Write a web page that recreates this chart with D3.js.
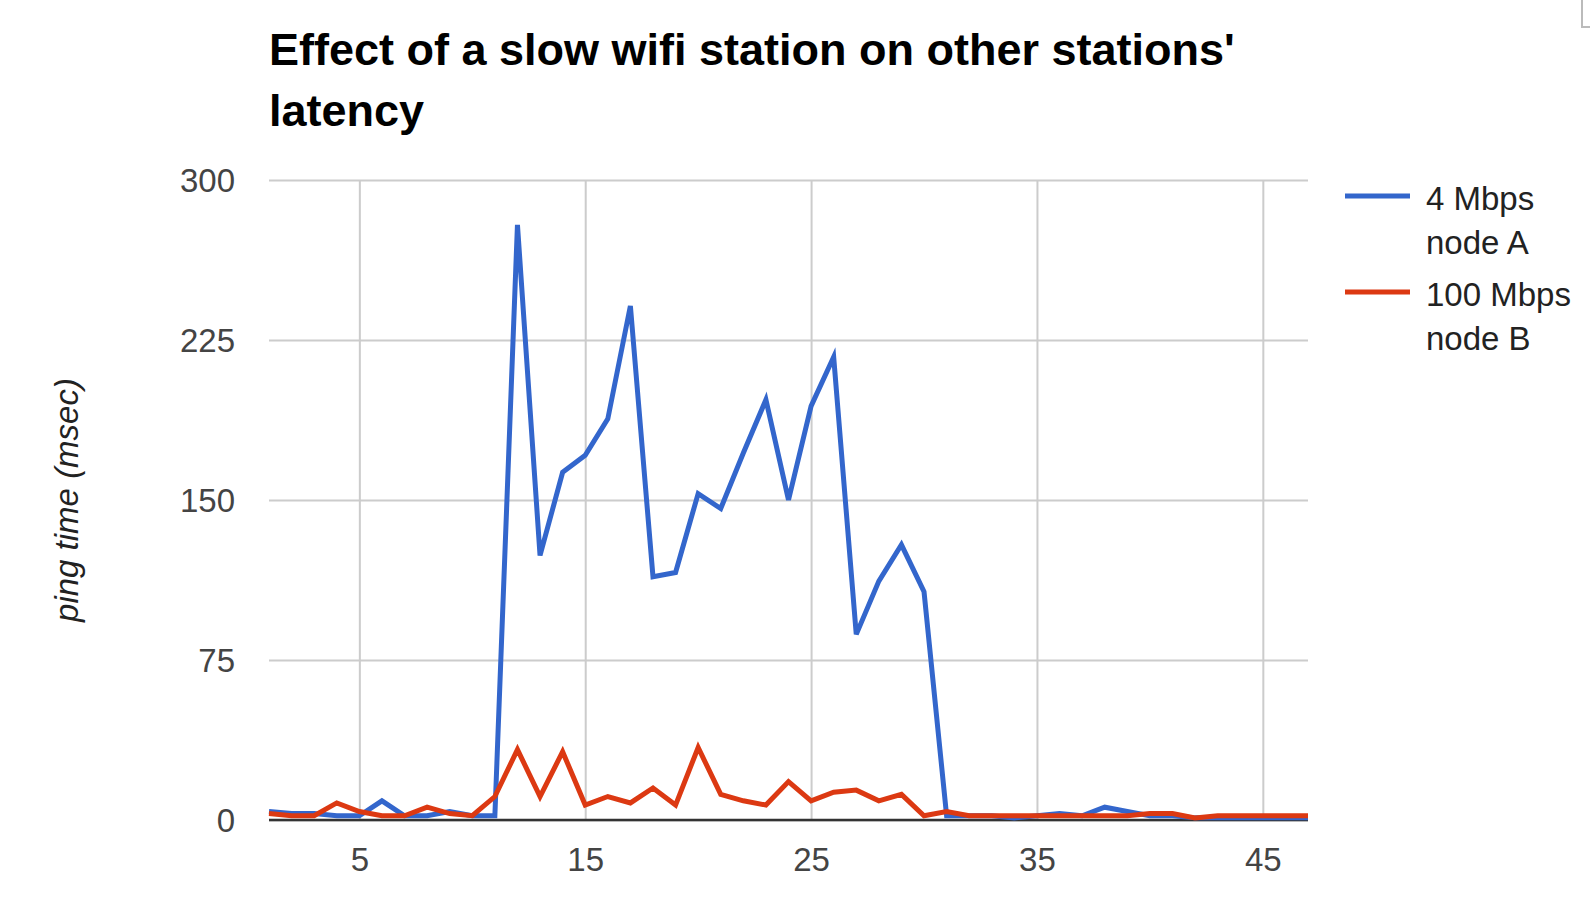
<!DOCTYPE html>
<html>
<head>
<meta charset="utf-8">
<script src="https://cdn.jsdelivr.net/npm/d3@7"></script>
<style>
  body { margin: 0; background: #fff; }
  svg { display: block; font-family: Arial, "Liberation Sans", sans-serif; }
</style>
</head>
<body>
<div id="chart"></div>
<script>
// sample number (x axis)
var samples = [1, 2, 3, 4, 5, 6, 7, 8, 9, 10, 11, 12, 13, 14, 15, 16, 17, 18, 19, 20,
  21, 22, 23, 24, 25, 26, 27, 28, 29, 30, 31, 32, 33, 34, 35, 36, 37, 38, 39, 40,
  41, 42, 43, 44, 45, 46, 47];

// ping times, msec
var nodeA = [4, 3, 3, 2, 2, 9, 2, 2, 4, 2, 2, 279, 124, 163, 171, 188, 241, 114, 116, 153,
  146, 172, 197, 150, 194, 217, 87, 112, 129, 107, 2, 2, 2, 1, 2, 3, 2, 6, 4, 2,
  2, 1, 1, 1, 1, 1, 1];
var nodeB = [3, 2, 2, 8, 4, 2, 2, 6, 3, 2, 11, 33, 11, 32, 7, 11, 8, 15, 7, 34,
  12, 9, 7, 18, 9, 13, 14, 9, 12, 2, 4, 2, 2, 2, 2, 2, 2, 2, 2, 3,
  3, 1, 2, 2, 2, 2, 2];

var seriesNames = [["4 Mbps", "node A"], ["100 Mbps", "node B"]];
var seriesColors = ["#3366cc", "#dc3912"];

var xTicks = [5, 15, 25, 35, 45];
var yTicks = [0, 75, 150, 225, 300];

var W = 1590, H = 918;
var plotLeft = 269, plotRight = 1308, plotTop = 180, plotBottom = 820;

var svg = d3.select("#chart").append("svg")
  .attr("width", W)
  .attr("height", H);

var x = d3.scaleLinear().domain([1, 47]).range([plotLeft, plotRight]);
var y = d3.scaleLinear().domain([0, 300]).range([plotBottom, plotTop]);

// title
var title = svg.append("text")
  .attr("font-size", 45)
  .attr("font-weight", "bold")
  .attr("fill", "#000");
title.append("tspan").attr("x", 269).attr("y", 65).text("Effect of a slow wifi station on other stations'");
title.append("tspan").attr("x", 269).attr("y", 126).text("latency");

// y axis + horizontal grid
var yAxis = svg.append("g")
  .attr("transform", "translate(" + plotLeft + ",0)")
  .call(d3.axisLeft(y).tickValues(yTicks).tickSize(-(plotRight - plotLeft)).tickPadding(34));
yAxis.select(".domain").remove();
yAxis.selectAll(".tick line").attr("stroke", "#cccccc").attr("stroke-width", 2);
yAxis.selectAll(".tick text")
  .attr("font-size", 33)
  .attr("fill", "#444")
  .attr("font-family", "Arial, 'Liberation Sans', sans-serif")
  .attr("dy", "0.36em");

// x axis + vertical grid
var xAxis = svg.append("g")
  .attr("transform", "translate(0," + plotBottom + ")")
  .call(d3.axisBottom(x).tickValues(xTicks).tickSize(-(plotBottom - plotTop)).tickPadding(28));
xAxis.select(".domain").remove();
xAxis.selectAll(".tick line").attr("stroke", "#cccccc").attr("stroke-width", 2);
xAxis.selectAll(".tick text")
  .attr("font-size", 33)
  .attr("fill", "#444")
  .attr("font-family", "Arial, 'Liberation Sans', sans-serif");

// baseline
svg.append("line")
  .attr("x1", plotLeft).attr("x2", plotRight)
  .attr("y1", y(0)).attr("y2", y(0))
  .attr("stroke", "#333")
  .attr("stroke-width", 2.5);

// y axis title
svg.append("text")
  .attr("transform", "translate(78," + ((plotTop + plotBottom) / 2) + ") rotate(-90)")
  .attr("text-anchor", "middle")
  .attr("font-size", 33)
  .attr("font-style", "italic")
  .attr("fill", "#222")
  .text("ping time (msec)");

// lines
var line = d3.line()
  .x((d, i) => x(samples[i]))
  .y((d) => y(d));

[nodeA, nodeB].forEach((s, k) => {
  svg.append("path")
    .datum(s)
    .attr("d", line)
    .attr("fill", "none")
    .attr("stroke", seriesColors[k])
    .attr("stroke-width", 5)
    .attr("stroke-linejoin", "miter");
});

// legend
var legend = svg.append("g").attr("transform", "translate(1345,0)");
seriesNames.forEach((names, k) => {
  var y0 = 196 + k * 96;
  legend.append("line")
    .attr("x1", 0).attr("x2", 65)
    .attr("y1", y0).attr("y2", y0)
    .attr("stroke", seriesColors[k])
    .attr("stroke-width", 5);
  var t = legend.append("text")
    .attr("font-size", 33)
    .attr("fill", "#222");
  names.forEach((n, j) => {
    t.append("tspan").attr("x", 81).attr("y", y0 + 14 + j * 44).text(n);
  });
});

// small corner mark top right
svg.append("path")
  .attr("d", "M1582,0 V27 H1590")
  .attr("fill", "none")
  .attr("stroke", "#bbb")
  .attr("stroke-width", 2);
</script>
</body>
</html>
